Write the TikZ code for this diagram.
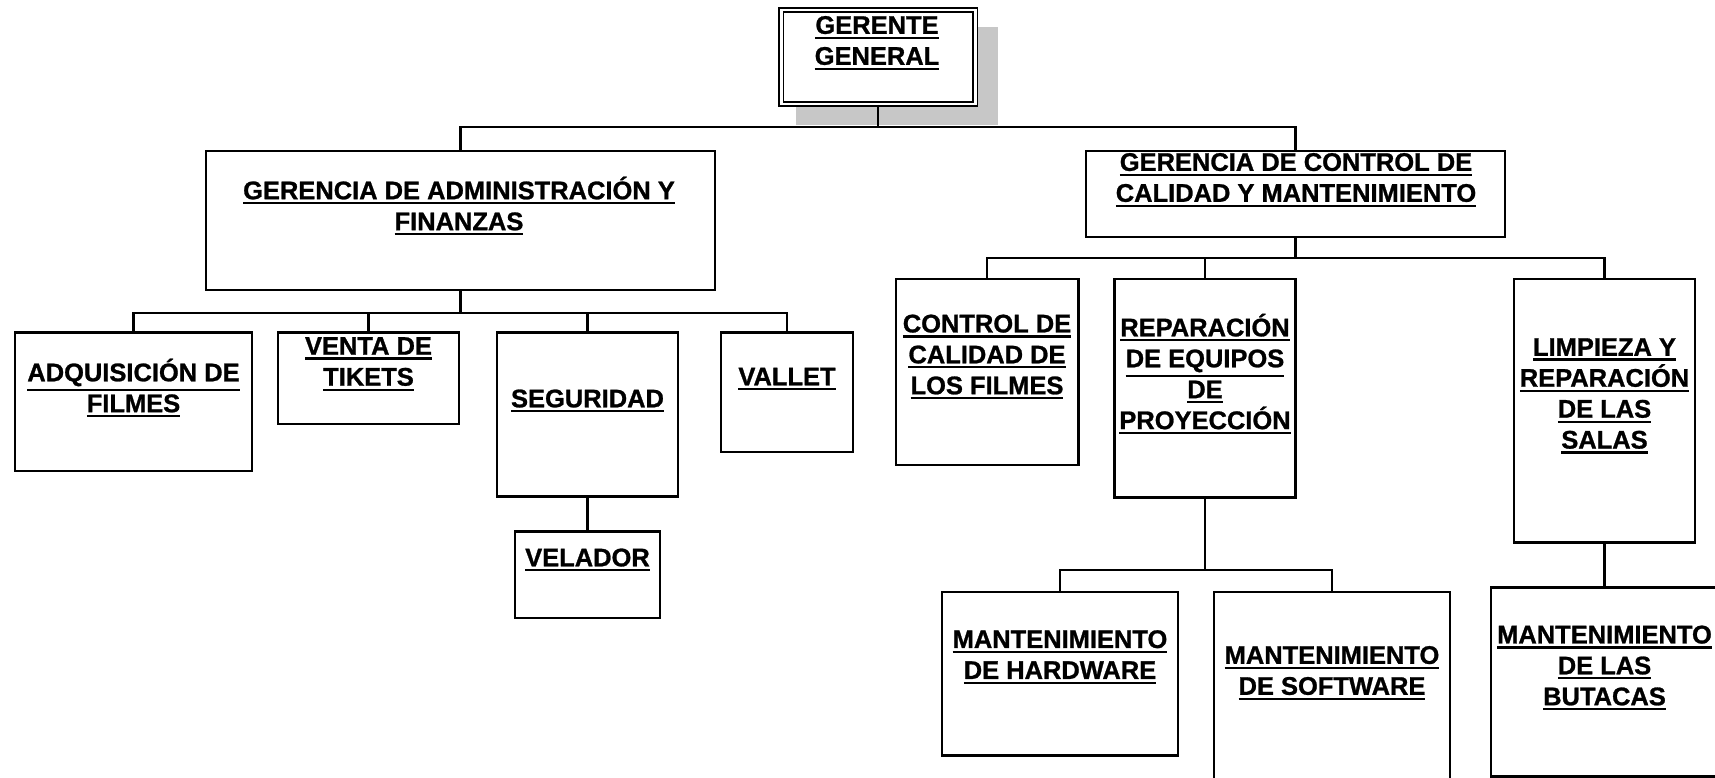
\documentclass[tikz,border=0pt]{standalone}
\usepackage{fontspec}
\setmainfont{Liberation Sans}[BoldFeatures={FakeBold=1}]
\usetikzlibrary{fit,shadows}
\tikzset{caja/.style={draw,line width=1.3pt,inner sep=0pt},
  jefe/.style={draw,double,double distance=1.7pt,line width=1.1pt,fill=white,inner sep=0pt,
    drop shadow={shadow xshift=0.36cm,shadow yshift=-0.36cm,shadow scale=1.04,fill=black!22,opacity=1}},
  texto/.style={font=\bfseries\fontsize{14.5pt}{17.6pt}\selectfont,align=center,inner sep=0pt},
  linea/.style={line width=1.3pt}}
\newcommand\rayado[1]{\leavevmode\vtop{\hbox{#1}\kern1.5pt\hrule height1.3pt}}
\begin{document}
\begin{tikzpicture}[x=0.02cm,y=-0.02cm]
\path[use as bounding box,clip] (0,0) rectangle (1715,778);
% cajas
\node[jefe,fit={(781,10)(975,104)}] (ger) {};
\node[caja,fit={(206,151)(715,290)}] (adm) {};\node[caja,fit={(1086,151)(1505,237)}] (cal) {};
\node[caja,fit={(15,332.5)(252,471)}] (adq) {};\node[caja,fit={(278,332.5)(459,424)}] (ven) {};
\node[caja,fit={(497,332.5)(678,496.5)}] (seg) {};\node[caja,fit={(721,332.5)(853,452)}] (val) {};
\node[caja,fit={(515,531.5)(660,618)}] (vel) {};
\node[caja,fit={(896,279)(1078.5,465)}] (ctl) {};\node[caja,fit={(1114.5,279)(1295.5,497.5)}] (rep) {};
\node[caja,fit={(1514,279)(1695,542.5)}] (lim) {};
\node[caja,fit={(942,592)(1178,755.5)}] (mhw) {};\node[caja,fit={(1214,592)(1450,800)}] (msw) {};
\node[caja,fit={(1491,587.5)(1718,776.5)}] (but) {};
% textos
\node[texto] (ger-t) at (877,43) {\rayado{GERENTE}\\\rayado{GENERAL}};
\node[texto] (adm-t) at (459,206) {\rayado{GERENCIA DE ADMINISTRACIÓN Y}\\\rayado{FINANZAS}};
\node[texto] (cal-t) at (1296,180) {\rayado{GERENCIA DE CONTROL DE}\\\rayado{CALIDAD Y MANTENIMIENTO}};
\node[texto] (adq-t) at (133.5,388) {\rayado{ADQUISICIÓN DE}\\\rayado{FILMES}};
\node[texto] (ven-t) at (368.5,364) {\rayado{VENTA DE}\\\rayado{TIKETS}};
\node[texto] (seg-t) at (587.5,401) {\rayado{SEGURIDAD}};
\node[texto] (val-t) at (787,379) {\rayado{VALLET}};
\node[texto] (vel-t) at (587.5,560) {\rayado{VELADOR}};
\node[texto] (ctl-t) at (987,357) {\rayado{CONTROL DE}\\\rayado{CALIDAD DE}\\\rayado{LOS FILMES}};
\node[texto] (rep-t) at (1205,374) {\rayado{REPARACIÓN}\\\rayado{DE EQUIPOS}\\\rayado{DE}\\\rayado{PROYECCIÓN}};
\node[texto] (lim-t) at (1604.5,396) {\rayado{LIMPIEZA Y}\\\rayado{REPARACIÓN}\\\rayado{DE LAS}\\\rayado{SALAS}};
\node[texto] (mhw-t) at (1060,657) {\rayado{MANTENIMIENTO}\\\rayado{DE HARDWARE}};
\node[texto] (msw-t) at (1332,673) {\rayado{MANTENIMIENTO}\\\rayado{DE SOFTWARE}};
\node[texto] (but-t) at (1604.5,668) {\rayado{MANTENIMIENTO}\\\rayado{DE LAS}\\\rayado{BUTACAS}};
% lineas
\draw[linea] (adm.north) -- ++(0,-23) coordinate (b1) -| (cal.north);
\draw[linea] (ger.south) -- (ger.south |- b1);
\draw[linea] (adm.south) -- ++(0,22) coordinate (b2);
\foreach \n in {adq,ven,seg,val} \draw[linea] (\n.north) |- (b2);
\draw[linea] (seg.south) -- (vel.north);
\draw[linea] (cal.south) -- ++(0,20) coordinate (b3);
\foreach \n in {ctl,rep,lim} \draw[linea] (\n.north) |- (b3);
\draw[linea] (rep.south) -- ++(0,71) coordinate (b4);
\foreach \n in {mhw,msw} \draw[linea] (\n.north) |- (b4);
\draw[linea] (lim.south) -- (but.north);
\end{tikzpicture}
\end{document}
